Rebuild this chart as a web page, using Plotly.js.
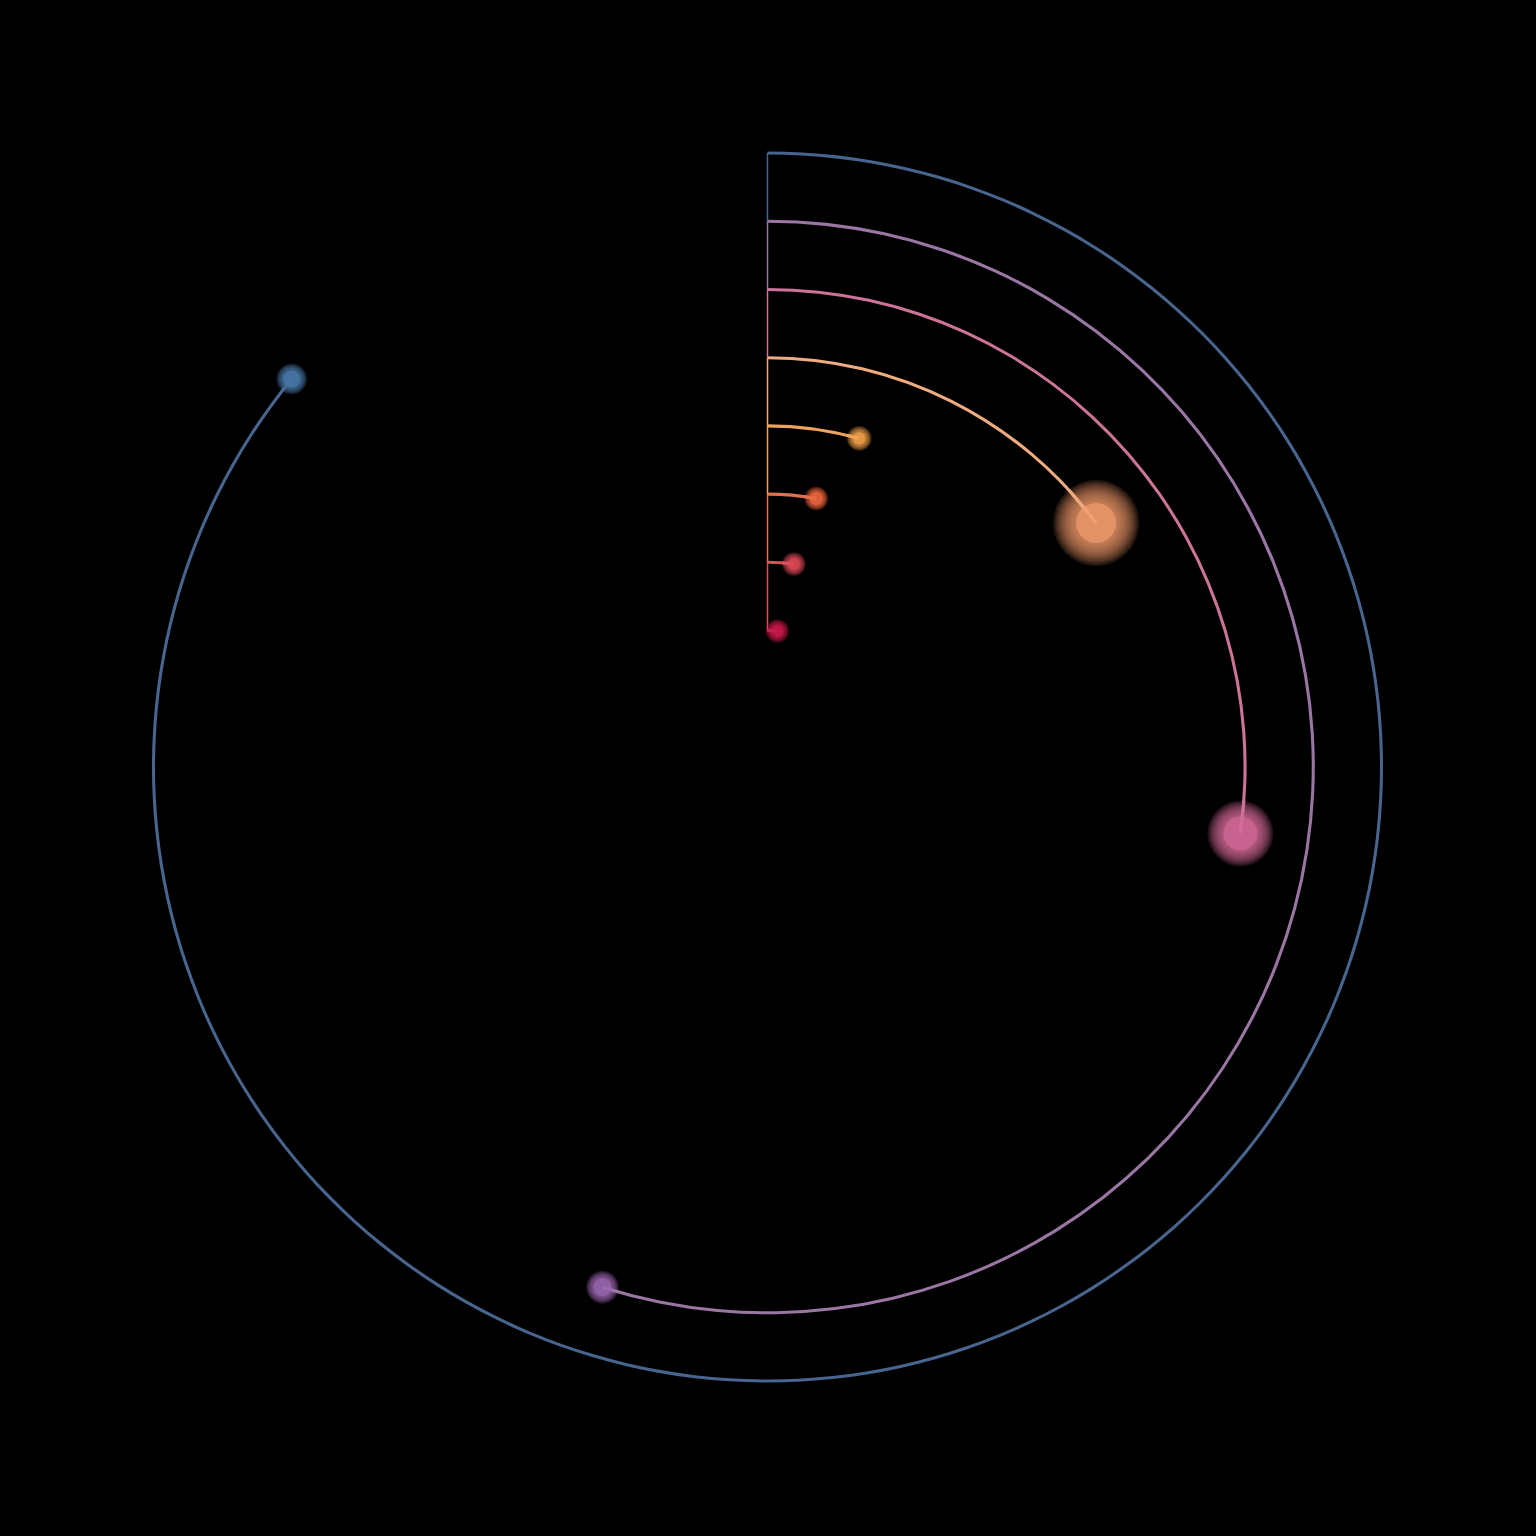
<!DOCTYPE html>
<html>
<head>
<meta charset="utf-8">
<script src="https://cdn.plot.ly/plotly-3.0.1.min.js"></script>
<style>
  html, body { margin: 0; padding: 0; background: #000; }
  #orbits { width: 1536px; height: 1536px; }
</style>
</head>
<body>
<div id="orbits"></div>
<script>
// rings, inner to outer
const bodies = ['Mercury', 'Venus', 'Earth', 'Mars', 'Jupiter', 'Saturn', 'Uranus', 'Neptune']
const orbitRadius = [2, 3, 4, 5, 6, 7, 8, 9]
// how far round each ring goes, degrees clockwise from the top
const sweepDeg = [4.1, 7.4, 10.3, 15.6, 53.4, 98.0, 197.6, 309.2]

// styles
const dotColors = ['#c8184a', '#dc4a55', '#e8683f', '#f0a14a', '#f29c6c', '#d46a98', '#9868ae', '#4a79ab']
const ringColors = ['#c8204e', '#d9525a', '#e0704f', '#eda35c', '#f0ac80', '#cc7497', '#9a76a4', '#47658f']
const glowSizes = [24, 24, 24, 25, 86, 66, 33, 31]
const coreSizes = [12, 12, 13, 12, 40, 34, 18, 17]
const glowSteps = 10
const glowAlpha = 0.15
const ringThickness = 0.045 // radial units, ~3px

// outer ring (r=9) sits at 614px from the centre (767.5, 767)
const rangeMax = 9.3
const pxPerUnit = 614 / 9
const outerPx = pxPerUnit * rangeMax

let traces = []

// arcs as thin annular bars
traces.push({
  type: 'barpolar',
  r: orbitRadius.map(() => ringThickness),
  base: orbitRadius.map((r) => r - ringThickness / 2),
  theta: sweepDeg.map((d) => d / 2),
  width: sweepDeg,
  marker: { color: ringColors, line: { width: 0 } },
  hoverinfo: 'skip',
})

// thin spokes joining each ring to the one inside it
for (let i = 1; i < orbitRadius.length; i++) {
  traces.push({
    type: 'scatterpolar',
    mode: 'lines',
    r: [orbitRadius[i - 1], orbitRadius[i]],
    theta: [0, 0],
    line: { color: ringColors[i], width: 1.5 },
    hoverinfo: 'skip',
  })
}

// glow: stacked faint discs, big to small
for (let k = 0; k < glowSteps; k++) {
  let t = k / glowSteps
  traces.push({
    type: 'scatterpolar',
    mode: 'markers',
    r: orbitRadius,
    theta: sweepDeg,
    marker: {
      size: glowSizes.map((g, i) => g - (g - coreSizes[i]) * t),
      color: dotColors,
      opacity: glowAlpha,
      line: { width: 0 },
    },
    hoverinfo: 'skip',
  })
}

// the end of each arc redrawn over its glow
orbitRadius.forEach((r, i) => {
  let spanDeg = ((glowSizes[i] / 2 / (r * pxPerUnit)) * 180) / Math.PI
  traces.push({
    type: 'scatterpolar',
    mode: 'lines',
    r: [r, r],
    theta: [Math.max(0, sweepDeg[i] - spanDeg), sweepDeg[i]],
    line: { color: ringColors[i], width: 3 },
    hoverinfo: 'skip',
  })
})

// solid core
traces.push({
  type: 'scatterpolar',
  mode: 'markers',
  r: orbitRadius,
  theta: sweepDeg,
  text: bodies,
  hoverinfo: 'text',
  marker: { size: coreSizes, color: dotColors, line: { width: 0 } },
})

let layout = {
  width: 1536,
  height: 1536,
  margin: { l: 0, r: 0, t: 0, b: 0 },
  paper_bgcolor: '#000',
  plot_bgcolor: '#000',
  showlegend: false,
  polar: {
    domain: {
      x: [(767.5 - outerPx) / 1536, (767.5 + outerPx) / 1536],
      y: [(769 - outerPx) / 1536, (769 + outerPx) / 1536],
    },
    bgcolor: '#000',
    radialaxis: {
      range: [0, rangeMax],
      showgrid: false,
      showline: false,
      showticklabels: false,
      ticks: '',
    },
    angularaxis: {
      rotation: 90,
      direction: 'clockwise',
      showgrid: false,
      showline: false,
      showticklabels: false,
      ticks: '',
    },
  },
}

Plotly.newPlot('orbits', traces, layout, { displayModeBar: false, staticPlot: true })
</script>
</body>
</html>
